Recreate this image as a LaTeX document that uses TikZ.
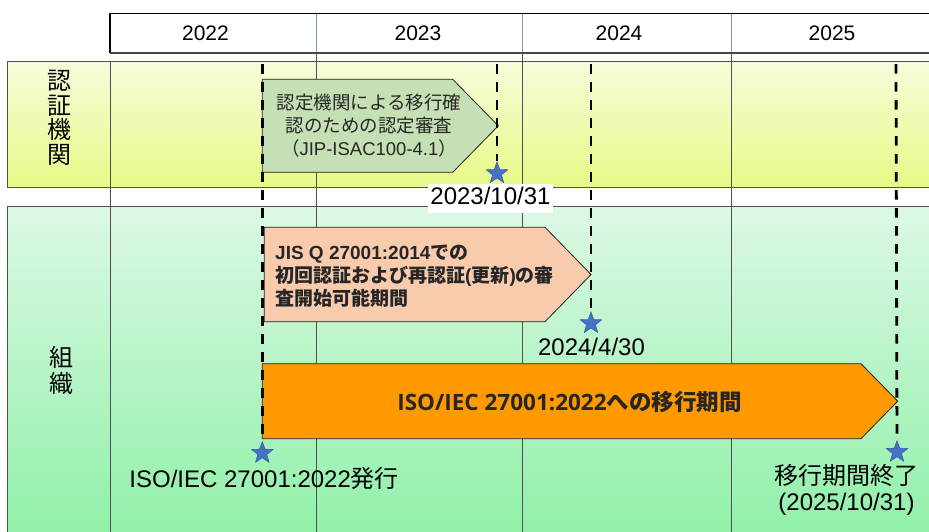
\documentclass[tikz,border=0pt]{standalone}
\usepackage{fontspec}
\setmainfont{Liberation Sans}
\newfontfamily\jp{Noto Sans CJK JP}
\newfontfamily\osans{Open Sans}
\usetikzlibrary{shapes.geometric}
\definecolor{certgreen}{RGB}{197,224,180}
\definecolor{peach}{RGB}{248,203,173}
\definecolor{migorange}{RGB}{255,153,0}
\definecolor{starblue}{RGB}{68,114,196}
\definecolor{gridgray}{RGB}{80,80,80}
\definecolor{yeargrid}{RGB}{132,150,176}
\definecolor{yeltop}{RGB}{245,252,218}
\definecolor{yelbot}{RGB}{232,250,135}
\definecolor{grntop}{RGB}{220,248,228}
\definecolor{grnbot}{RGB}{143,240,168}
\definecolor{textgray}{RGB}{38,38,38}
\begin{document}
\begin{tikzpicture}[x=1pt,y=-1pt,
    deadline/.style={draw=black,line width=2.8pt,dash pattern=on 9.5pt off 8.5pt},
    mstar/.style={star,star points=5,star point ratio=2.4,minimum size=23pt,
      inner sep=0pt,fill=starblue,draw=starblue!75!black,line width=0.4pt},
    datelbl/.style={font=\fontsize{24}{26.6}\selectfont,inner sep=1pt},
    pent/.style={draw=gray!25!black,line width=0.8pt},
    year/.style={font=\fontsize{21}{24}\selectfont}]
  \useasboundingbox (0,0) rectangle (929,531);
  % bands
  \fill[top color=yeltop,bottom color=yelbot] (7.3,61) rectangle (940,187.3);
  \fill[top color=grntop,bottom color=grnbot] (7.3,206.7) rectangle (940,540);
  \draw[gridgray,line width=0.8pt] (940,61) -- (7.3,61) -- (7.3,187.3) -- (940,187.3);
  \draw[gridgray,line width=0.8pt] (940,206.7) -- (7.3,206.7) -- (7.3,540);
  \draw[gridgray,line width=0.8pt] (110,61) -- (110,540);
  \foreach \x in {316.5,522.5,731.5} {
    \draw[yeargrid,line width=0.7pt] (\x,13.3) -- (\x,53.3);
    \draw[gridgray,line width=0.7pt] (\x,53.3) -- (\x,540);
  }
  % header
  \draw[line width=1.2pt] (940,13.3) -- (110,13.3) -- (110,53.3);
  \draw[gray!55!black,line width=1.8pt] (110,53.3) -- (940,53.3);
  \node[year] (y2022) at (205.5,33.3) {2022};
  \node[year] (y2023) at (418,33.3) {2023};
  \node[year] (y2024) at (619,33.3) {2024};
  \node[year] (y2025) at (832,33.3) {2025};
  % row labels
  \node[font=\jp\fontsize{24}{24.5}\selectfont,align=center] (certlbl) at (59,118) {認\\証\\機\\関};
  \node[font=\jp\fontsize{24}{26}\selectfont,align=center] (orglbl) at (61,370) {組\\織};
  % periods
  \draw[pent,fill=certgreen] (262.3,79.3) -- (452.7,79.3) -- (498.3,125.8)
    -- (452.7,172.3) -- (262.3,172.3) -- cycle;
  \node[font=\jp\fontsize{18.5}{23}\selectfont,align=center,text=textgray] (certtxt) at (369,126)
    {認定機関による移行確\\認のための認定審査\\（{\rmfamily JIP-ISAC100-4.1}）};
  \draw[pent,fill=peach] (264.3,227.3) -- (545,227.3) -- (591,274.5)
    -- (545,321.7) -- (264.3,321.7) -- cycle;
  \node[font=\bfseries\fontsize{19}{23}\selectfont,align=left,anchor=west,inner sep=0pt,text=textgray]
    (jistxt) at (275,275.8)
    {JIS Q 27001:2014{\jp での}\\{\jp 初回認証および再認証}({\jp 更新}){\jp の審}\\{\jp 査開始可能期間}};
  \draw[pent,fill=migorange] (262.3,363.7) -- (861,363.7) -- (897.7,401.2)
    -- (861,438.7) -- (262.3,438.7) -- cycle;
  \node[font=\bfseries\fontsize{22.5}{26}\selectfont,text=textgray] (migtxt) at (569.5,401.7)
    {{\osans ISO/IEC 27001:2022}{\jp への移行期間}};
  % milestones
  \node[mstar] (s2022) at (262.3,453) {};
  \node[mstar] (s2023) at (497,173.3) {};
  \node[mstar] (s2024) at (591,323.3) {};
  \node[mstar] (s2025) at (897,452) {};
  \coordinate (top2022) at (262.3,64);
  \coordinate (top2023) at (497,64);
  \coordinate (top2024) at (591,64);
  \coordinate (top2025) at (896,64);
  \draw[deadline] (top2022) -- (s2022);
  \draw[deadline] (top2023) -- (s2023);
  \draw[deadline] (top2024) -- (s2024);
  \draw[deadline] (top2025) -- (s2025);
  % dates
  \node[datelbl,fill=white,inner xsep=2.5pt,inner ysep=3.5pt,text height=17pt,text depth=5pt]
    (d2023) at (490.5,198.5) {2023/10/31};
  \node[datelbl] (d2024) at (591.5,346.7) {2024/4/30};
  \node[datelbl] (d2022) at (264.2,478.3) {ISO/IEC 27001:2022{\jp 発行}};
  \node[datelbl,align=center] (d2025) at (846.5,490) {{\jp 移行期間終了}\\(2025/10/31)};
\end{tikzpicture}
\end{document}
